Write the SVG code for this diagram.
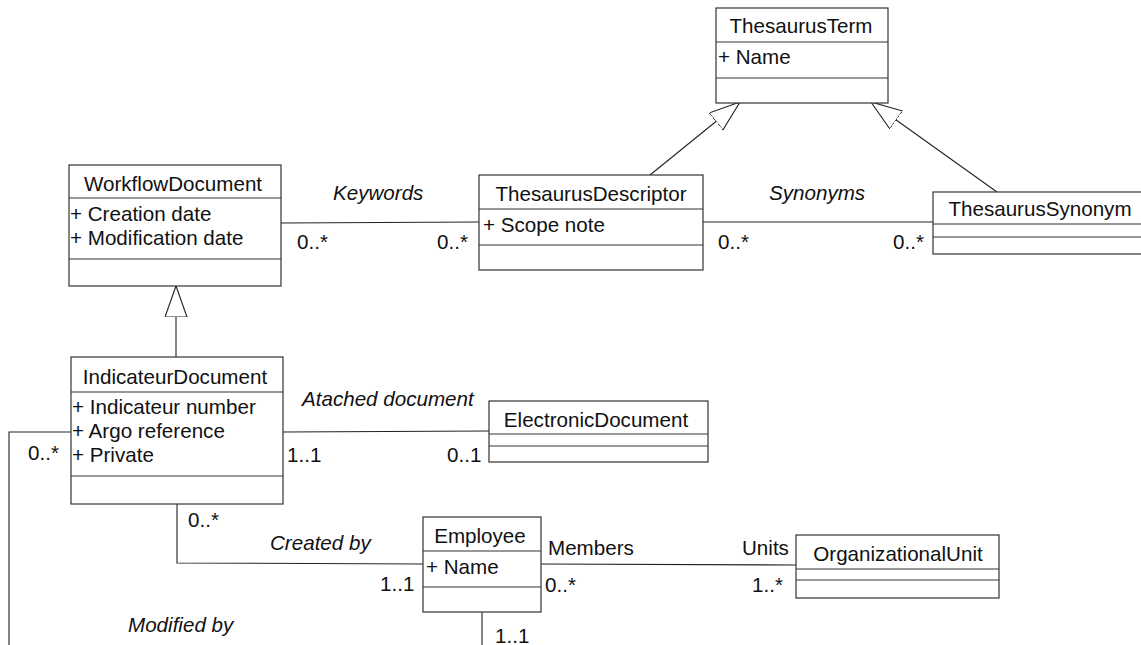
<svg xmlns="http://www.w3.org/2000/svg" width="1141" height="645" viewBox="0 0 1141 645">
  <style>
    .box { fill: #ffffff; stroke: #333333; stroke-width: 1.2; }
    .sep { stroke: #333333; stroke-width: 1.2; }
    .edge { fill: none; stroke: #222222; stroke-width: 1.1; }
    text { font-family: "Liberation Sans", Arial, sans-serif; font-size: 20.6px; fill: #111111; }
    .name { text-anchor: middle; }
    .role { font-style: italic; }
  </style>
  <defs>
    <marker id="inherit" markerUnits="userSpaceOnUse" markerWidth="34" markerHeight="26" refX="31" refY="11" orient="auto">
      <path d="M31,11 L0,0 L0,22 Z" fill="#ffffff" stroke="#222222" stroke-width="1.1"/>
    </marker>
  </defs>

  <rect width="1141" height="645" fill="#ffffff"/>

  <!-- associations and generalizations -->
  <g id="connectors">
    <line class="edge" x1="650" y1="175" x2="740" y2="102" marker-end="url(#inherit)"/>
    <line class="edge" x1="997" y1="192" x2="871" y2="102" marker-end="url(#inherit)"/>
    <line class="edge" x1="176" y1="357" x2="176" y2="286" marker-end="url(#inherit)"/>
    <line class="edge" x1="281" y1="223" x2="479" y2="222"/>
    <line class="edge" x1="703" y1="222" x2="933" y2="222"/>
    <line class="edge" x1="283" y1="432" x2="489" y2="431"/>
    <polyline class="edge" points="71,432 9,432 9,645"/>
    <polyline class="edge" points="177,504 177,563 423,564"/>
    <line class="edge" x1="541" y1="564" x2="796" y2="565"/>
    <line class="edge" x1="482" y1="612" x2="482" y2="645"/>

    <text class="role" x="333" y="200">Keywords</text>
    <text x="297" y="249">0..*</text>
    <text x="437" y="249">0..*</text>
    <text class="role" x="769" y="200">Synonyms</text>
    <text x="718" y="249">0..*</text>
    <text x="893" y="249">0..*</text>
    <text class="role" x="302" y="406">Atached document</text>
    <text x="287" y="462">1..1</text>
    <text x="447" y="462">0..1</text>
    <text x="28" y="460">0..*</text>
    <text x="188" y="527">0..*</text>
    <text class="role" x="270" y="550">Created by</text>
    <text x="380" y="591">1..1</text>
    <text class="role" x="128" y="632">Modified by</text>
    <text x="548" y="555">Members</text>
    <text x="545" y="592">0..*</text>
    <text x="742" y="555">Units</text>
    <text x="752" y="592">1..*</text>
    <text x="495" y="643">1..1</text>
  </g>

  <g id="ThesaurusTerm">
    <rect class="box" x="716" y="8" width="172" height="95"/>
    <line class="sep" x1="716" y1="42" x2="888" y2="42"/>
    <line class="sep" x1="716" y1="78" x2="888" y2="78"/>
    <text class="name" x="801" y="33">ThesaurusTerm</text>
    <text x="718" y="64">+ Name</text>
  </g>

  <g id="WorkflowDocument">
    <rect class="box" x="69" y="165" width="212" height="121"/>
    <line class="sep" x1="69" y1="198" x2="281" y2="198"/>
    <line class="sep" x1="69" y1="259" x2="281" y2="259"/>
    <text class="name" x="173" y="191">WorkflowDocument</text>
    <text x="70" y="221">+ Creation date</text>
    <text x="70" y="245">+ Modification date</text>
  </g>

  <g id="ThesaurusDescriptor">
    <rect class="box" x="479" y="175" width="224" height="95"/>
    <line class="sep" x1="479" y1="209" x2="703" y2="209"/>
    <line class="sep" x1="479" y1="245" x2="703" y2="245"/>
    <text class="name" x="591" y="201">ThesaurusDescriptor</text>
    <text x="483" y="232">+ Scope note</text>
  </g>

  <g id="ThesaurusSynonym">
    <rect class="box" x="933" y="192" width="214" height="62"/>
    <line class="sep" x1="933" y1="224" x2="1147" y2="224"/>
    <line class="sep" x1="933" y1="237" x2="1147" y2="237"/>
    <text class="name" x="1040" y="216">ThesaurusSynonym</text>
  </g>

  <g id="IndicateurDocument">
    <rect class="box" x="71" y="357" width="212" height="147"/>
    <line class="sep" x1="71" y1="392" x2="283" y2="392"/>
    <line class="sep" x1="71" y1="476" x2="283" y2="476"/>
    <text class="name" x="175" y="384">IndicateurDocument</text>
    <text x="72" y="414">+ Indicateur number</text>
    <text x="72" y="438">+ Argo reference</text>
    <text x="72" y="462">+ Private</text>
  </g>

  <g id="ElectronicDocument">
    <rect class="box" x="489" y="401" width="219" height="61"/>
    <line class="sep" x1="489" y1="434" x2="708" y2="434"/>
    <line class="sep" x1="489" y1="446" x2="708" y2="446"/>
    <text class="name" x="596" y="427">ElectronicDocument</text>
  </g>

  <g id="Employee">
    <rect class="box" x="423" y="517" width="118" height="95"/>
    <line class="sep" x1="423" y1="551" x2="541" y2="551"/>
    <line class="sep" x1="423" y1="587" x2="541" y2="587"/>
    <text class="name" x="480" y="543">Employee</text>
    <text x="426" y="574">+ Name</text>
  </g>

  <g id="OrganizationalUnit">
    <rect class="box" x="796" y="535" width="203" height="63"/>
    <line class="sep" x1="796" y1="569" x2="999" y2="569"/>
    <line class="sep" x1="796" y1="580" x2="999" y2="580"/>
    <text class="name" x="898" y="561">OrganizationalUnit</text>
  </g>
</svg>
